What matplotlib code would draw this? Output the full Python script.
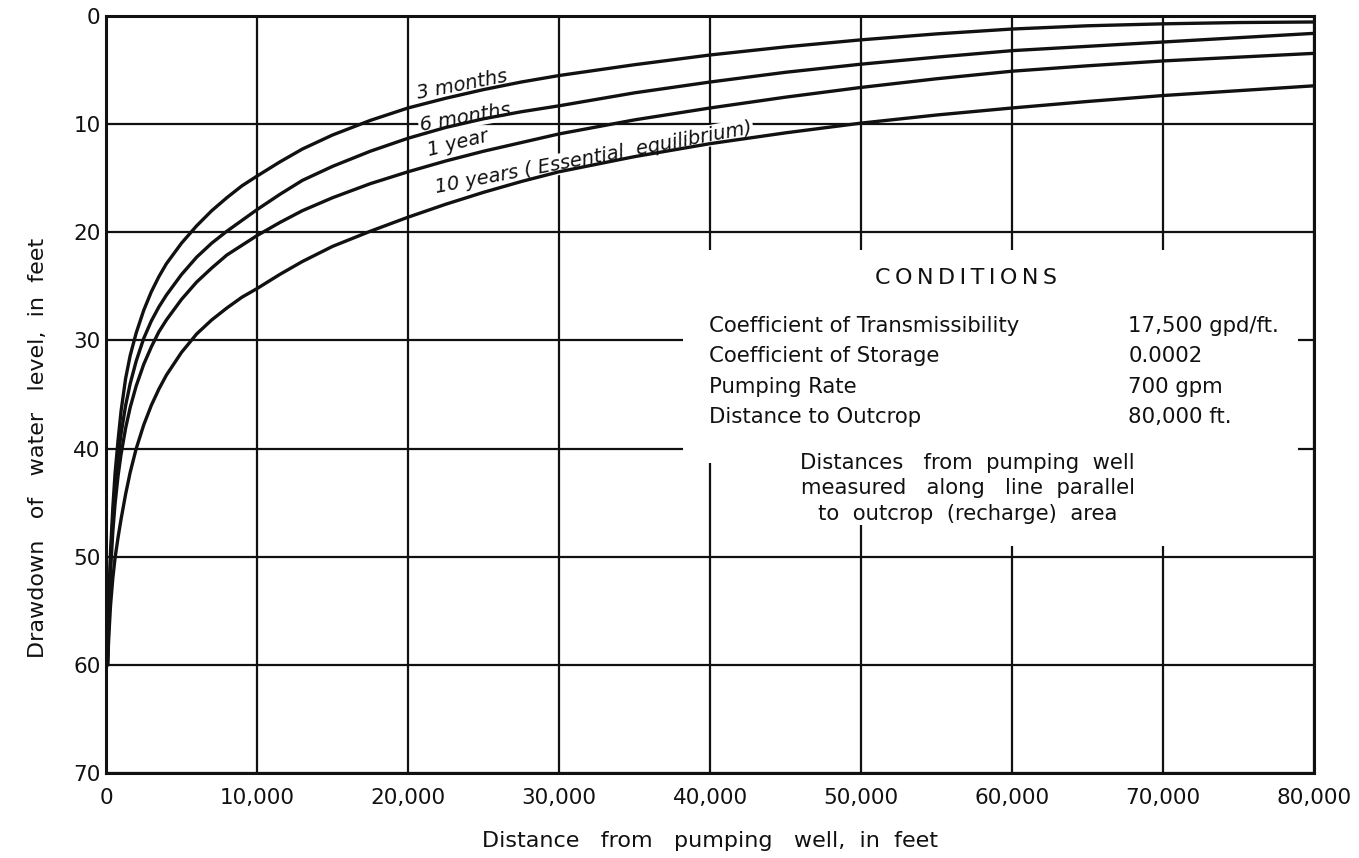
import matplotlib.pyplot as plt
from matplotlib.patches import Rectangle
from matplotlib.ticker import FuncFormatter

# drawdown curves (distance in ft, drawdown in ft) for each pumping period
x_3mo = [80, 100, 200, 300, 450, 600, 800, 1000, 1300, 1600, 2000, 2500, 3000, 3500,
         4000, 5000, 6000, 7000, 8000, 9000, 10000, 11500, 13000, 15000, 17500, 20000,
         22500, 25000, 27500, 30000, 35000, 40000, 45000, 50000, 55000, 60000, 65000,
         70000, 75000, 80000]
y_3mo = [60, 58.5, 53.5, 49.5, 45.5, 42.3, 39.2, 36.5, 33.5, 31.4, 29.3, 27.2, 25.5, 24.1,
         22.9, 21.0, 19.4, 18.0, 16.8, 15.7, 14.8, 13.5, 12.3, 11.0, 9.65, 8.5,
         7.6, 6.8, 6.1, 5.5, 4.5, 3.6, 2.85, 2.2, 1.65, 1.2, 0.9,
         0.72, 0.6, 0.55]

x_6mo = [100, 200, 300, 450, 600, 800, 1000, 1300, 1600, 2000, 2500, 3000, 3500,
         4000, 5000, 6000, 7000, 8000, 9000, 10000, 11500, 13000, 15000, 17500, 20000,
         22500, 25000, 27500, 30000, 35000, 40000, 45000, 50000, 55000, 60000, 65000,
         70000, 75000, 80000]
y_6mo = [60, 54.5, 50.5, 46.5, 43.6, 40.8, 38.6, 36.0, 34.0, 31.9, 29.8, 28.2, 26.9,
         25.8, 23.9, 22.3, 21.0, 19.9, 18.9, 17.9, 16.5, 15.2, 13.9, 12.5, 11.3,
         10.3, 9.5, 8.85, 8.3, 7.1, 6.1, 5.2, 4.45, 3.8, 3.2, 2.8,
         2.4, 2.0, 1.6]

x_1yr = [110, 200, 300, 450, 600, 800, 1000, 1300, 1600, 2000, 2500, 3000, 3500,
         4000, 5000, 6000, 7000, 8000, 9000, 10000, 11500, 13000, 15000, 17500, 20000,
         22500, 25000, 27500, 30000, 35000, 40000, 45000, 50000, 55000, 60000, 65000,
         70000, 75000, 80000]
y_1yr = [60, 55, 51.3, 47.7, 45.1, 42.5, 40.5, 38.1, 36.2, 34.2, 32.2, 30.6, 29.2,
         28.1, 26.2, 24.6, 23.3, 22.1, 21.2, 20.3, 19.1, 18.0, 16.8, 15.5, 14.4,
         13.4, 12.5, 11.7, 10.9, 9.6, 8.5, 7.5, 6.6, 5.8, 5.1, 4.6,
         4.15, 3.8, 3.45]

x_10yr = [100, 200, 300, 450, 600, 800, 1000, 1300, 1600, 2000, 2500, 3000, 3500,
          4000, 5000, 6000, 7000, 8000, 9000, 10000, 11500, 13000, 15000, 17500, 20000,
          22500, 25000, 27500, 30000, 35000, 40000, 45000, 50000, 55000, 60000, 65000,
          70000, 75000, 80000]
y_10yr = [60, 57, 54.5, 52.0, 50.1, 48.2, 46.5, 44.2, 42.2, 40.0, 37.8, 36.0, 34.5,
          33.2, 31.1, 29.4, 28.1, 27.0, 26.0, 25.2, 23.9, 22.7, 21.3, 19.9, 18.6,
          17.4, 16.3, 15.3, 14.4, 13.0, 11.8, 10.8, 9.9, 9.15, 8.5, 7.9,
          7.35, 6.9, 6.45]

x_ticks = list(range(0, 80001, 10000))
y_ticks = list(range(0, 71, 10))

cond_names = ['Coefficient of Transmissibility', 'Coefficient of Storage',
              'Pumping Rate', 'Distance to Outcrop']
cond_values = ['17,500 gpd/ft.', '0.0002', '700 gpm', '80,000 ft.']
note_lines = ['Distances   from  pumping  well',
              'measured   along   line  parallel',
              'to  outcrop  (recharge)  area']

plt.rcParams['font.family'] = 'DejaVu Sans'
ink = '#111111'

fig = plt.figure(figsize=(13.59, 8.58), dpi=100)
ax = fig.add_axes([0.078, 0.099, 0.889, 0.8823])

ax.set_xlim(0, 80000)
ax.set_ylim(70, 0)
ax.set_xticks(x_ticks)
ax.set_yticks(y_ticks)
ax.xaxis.set_major_formatter(FuncFormatter(lambda v, p: '0' if v == 0 else f'{int(v):,}'))
ax.tick_params(length=0, labelsize=15.5, colors=ink)
ax.tick_params(axis='x', pad=11)
ax.tick_params(axis='y', pad=4)
ax.grid(True, color=ink, lw=1.6)
ax.set_axisbelow(True)
for s in ax.spines.values():
    s.set_linewidth(2.2)
    s.set_color(ink)

ax.set_xlabel('Distance   from   pumping   well,  in  feet', fontsize=16, color=ink)
ax.set_ylabel('Drawdown   of   water   level,  in  feet', fontsize=16, color=ink)
ax.xaxis.set_label_coords(0.5, -0.077)
ax.yaxis.set_label_coords(-0.048, 0.43)

# blank panel behind the conditions table
for (x0, y0, w, h) in [(38200, 21.6, 40750, 19.7), (41500, 41.3, 37450, 5.8),
                       (55000, 47.0, 23950, 2.0)]:
    ax.add_patch(Rectangle((x0, y0), w, h, facecolor='white', edgecolor='none', zorder=1))

for xs, ys in [(x_3mo, y_3mo), (x_6mo, y_6mo), (x_1yr, y_1yr), (x_10yr, y_10yr)]:
    ax.plot(xs, ys, color=ink, lw=2.4, zorder=3, solid_capstyle='round',
            solid_joinstyle='round')

lbl = dict(fontsize=14, style='italic', ha='center', va='center', zorder=2,
           color=ink, bbox=dict(facecolor='white', edgecolor='none', pad=0.8))
ax.text(23580, 6.4, '3 months', rotation=11, **lbl)
ax.text(23770, 9.35, '6 months', rotation=10, **lbl)
ax.text(23300, 11.8, '1 year', rotation=14, **lbl)
ax.text(32300, 13.1, '10 years ( Essential  equilibrium)', rotation=10.7, **lbl)

ax.text(56950, 24.2, '\u2009'.join('CONDITIONS'), fontsize=16, ha='center',
        va='center', zorder=4, color=ink)
for i, (name, val) in enumerate(zip(cond_names, cond_values)):
    yy = 28.7 + i * 2.78
    ax.text(39950, yy, name, fontsize=15.3, ha='left', va='center', zorder=4, color=ink)
    ax.text(67700, yy, val, fontsize=15.3, ha='left', va='center', zorder=4, color=ink)
for i, line in enumerate(note_lines):
    ax.text(57050, 41.3 + i * 2.38, line, fontsize=15.2, ha='center', va='center',
            zorder=4, color=ink)

fig.savefig('out.png', dpi=100)
